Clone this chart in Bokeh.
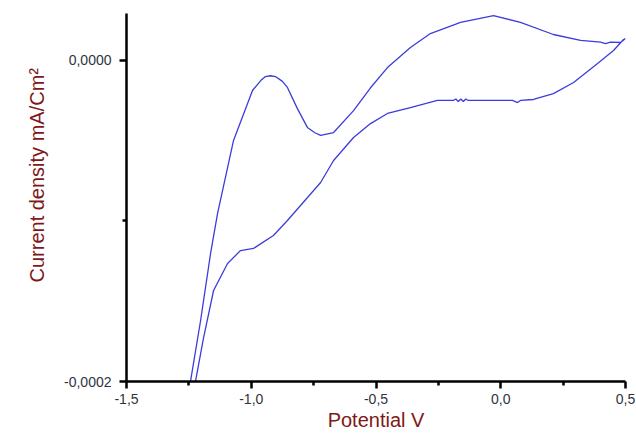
from bokeh.plotting import figure
from bokeh.models import FixedTicker, Range1d, Title
from bokeh.embed import file_html
from bokeh.resources import INLINE

# Forward (anodic) scan: potential V, current density (x1e-5 mA/cm2)
fwd_v = [-1.253, -1.243, -1.203, -1.163, -1.135, -1.071, -0.995, -0.962, -0.943,
         -0.923, -0.903, -0.875, -0.855, -0.815, -0.775, -0.745, -0.722, -0.670,
         -0.590, -0.522, -0.454, -0.362, -0.282, -0.161, -0.029, 0.079, 0.211,
         0.320, 0.400, 0.420, 0.440, 0.480, 0.500]
fwd_j = [-20.87, -19.94, -16.20, -12.02, -9.53, -4.98, -1.87, -1.25, -1.00,
         -0.95, -1.00, -1.30, -1.68, -3.00, -4.17, -4.50, -4.67, -4.49,
         -3.12, -1.70, -0.44, 0.81, 1.68, 2.37, 2.80, 2.37, 1.62,
         1.25, 1.15, 1.05, 1.15, 1.12, 1.37]

# Reverse (cathodic) scan
rev_v = [0.500, 0.492, 0.452, 0.388, 0.292, 0.211, 0.131, 0.079, 0.067, 0.047,
         -0.053, -0.130, -0.140, -0.150, -0.160, -0.170, -0.180, -0.190,
         -0.254, -0.362, -0.454, -0.522, -0.590, -0.670, -0.722, -0.855,
         -0.911, -0.991, -1.043, -1.095, -1.151, -1.191, -1.223, -1.235]
rev_j = [1.37, 1.31, 0.62, -0.19, -1.37, -2.06, -2.43, -2.49, -2.62, -2.49,
         -2.49, -2.49, -2.40, -2.55, -2.40, -2.55, -2.40, -2.49,
         -2.49, -2.93, -3.30, -3.93, -4.80, -6.23, -7.60, -9.97,
         -10.90, -11.71, -11.84, -12.65, -14.33, -17.26, -19.94, -20.87]

x_ticks = [-1.5, -1.0, -0.5, 0.0, 0.5]
x_tick_labels = ["-1,5", "-1,0", "-0,5", "0,0", "0,5"]
x_minor = [-1.25, -0.75, -0.25, 0.25]
y_ticks = [-0.0002, 0.0]
y_tick_labels = ["-0,0002", "0,0000"]
y_minor = [-0.0001]

x_title = "Potential V"
y_title = "Current density mA/Cm\u00b2"

volts = fwd_v + rev_v
current = [j * 1e-5 for j in fwd_j + rev_j]

FONT = "Liberation Sans"
TICK_COLOR = "#2f3340"
TITLE_COLOR = "#801818"

p = figure(width=636, height=433, output_backend="svg", toolbar_location=None,
           x_range=Range1d(-1.5, 0.5), y_range=Range1d(-0.0002, 2.928e-5),
           min_border_left=126, min_border_right=11, min_border_top=13,
           min_border_bottom=52)
p.outline_line_color = None
p.xgrid.visible = False
p.ygrid.visible = False
p.background_fill_color = "white"
p.border_fill_color = "white"

p.line(volts, current, line_color="#3c3cdc", line_width=1.3)

for ax, ticks, labels, minor in ((p.xaxis[0], x_ticks, x_tick_labels, x_minor),
                                 (p.yaxis[0], y_ticks, y_tick_labels, y_minor)):
    ax.ticker = FixedTicker(ticks=ticks, minor_ticks=minor)
    ax.major_label_overrides = {t: l for t, l in zip(ticks, labels)}
    ax.axis_line_width = 2.5
    ax.axis_line_color = "black"
    ax.major_tick_line_width = 2.5
    ax.minor_tick_line_width = 2.5
    ax.major_tick_out = 7
    ax.major_tick_in = 0
    ax.minor_tick_out = 4
    ax.minor_tick_in = 0
    ax.major_label_text_font = FONT
    ax.major_label_text_font_size = "14px"
    ax.major_label_text_color = TICK_COLOR

p.xaxis.major_label_standoff = 5
p.yaxis.major_label_standoff = 8

p.xaxis.axis_label = x_title
p.xaxis.axis_label_standoff = 2
p.xaxis.axis_label_text_font = FONT
p.xaxis.axis_label_text_font_size = "20px"
p.xaxis.axis_label_text_font_style = "normal"
p.xaxis.axis_label_text_color = TITLE_COLOR

p.add_layout(Title(text=y_title, align="left", offset=99, standoff=28,
                   text_font=FONT, text_font_size="20px", text_font_style="normal",
                   text_color=TITLE_COLOR), "left")

open("out.html", "w").write(file_html(p, INLINE))
